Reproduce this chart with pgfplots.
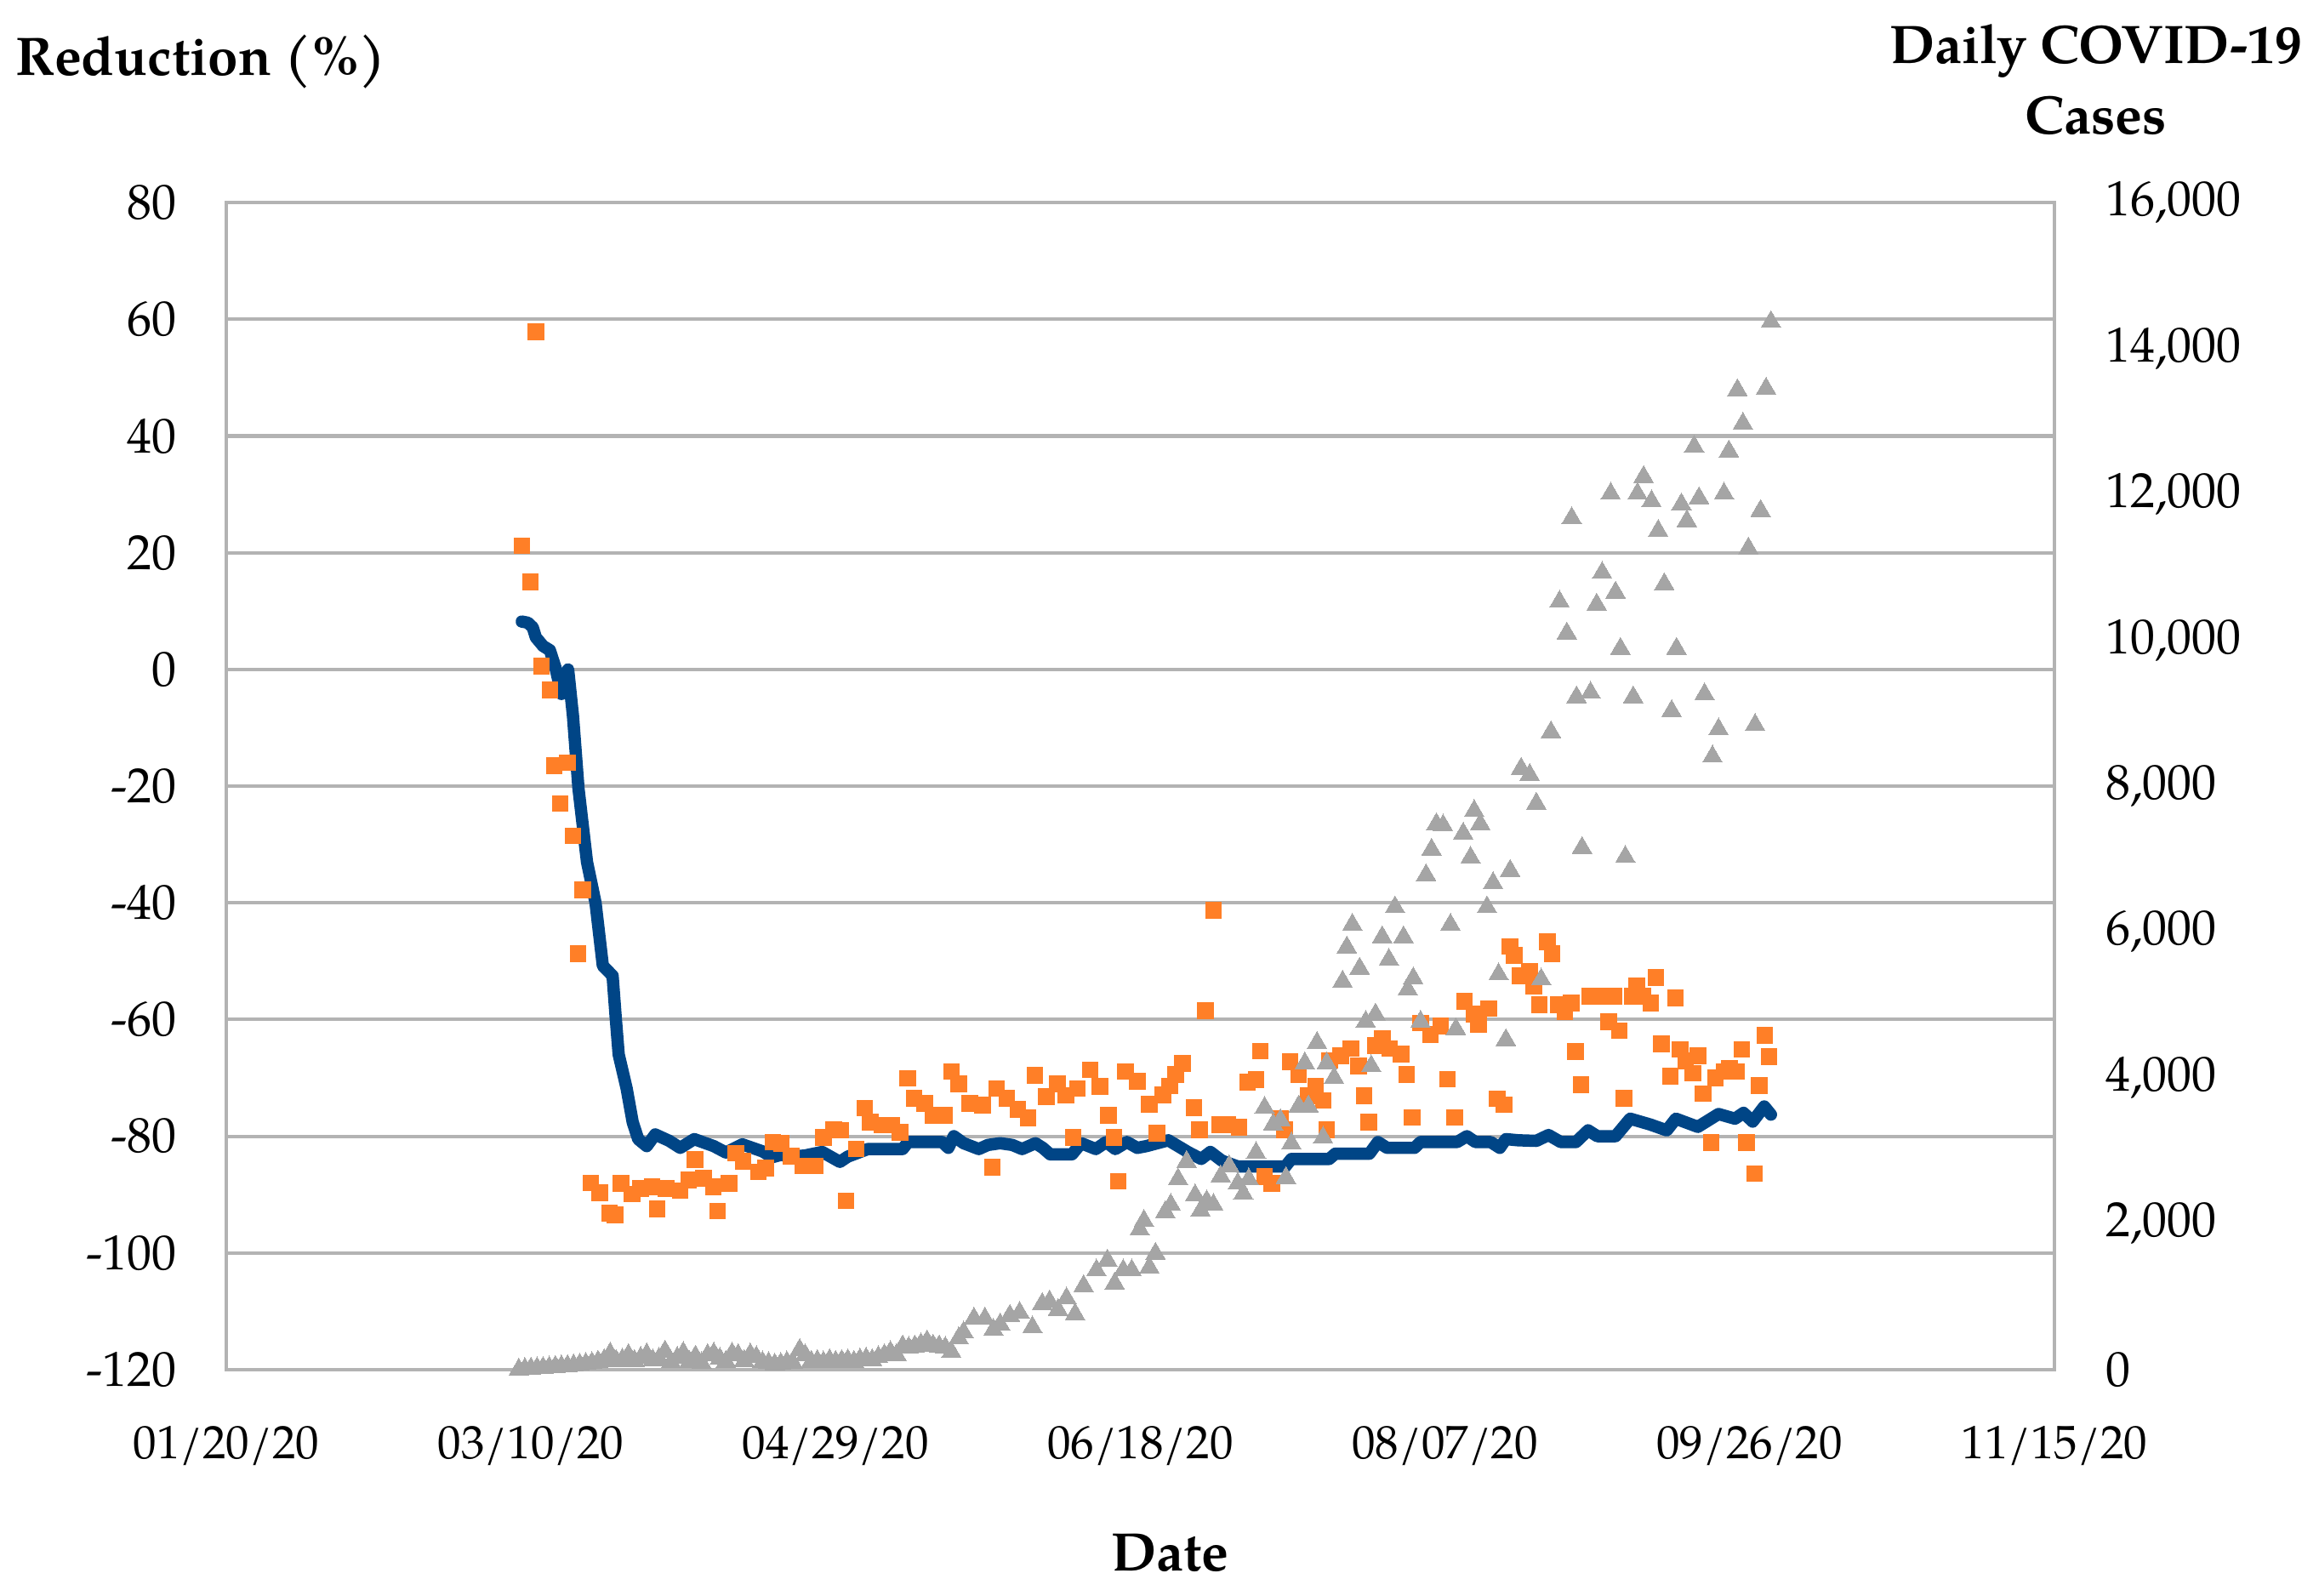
\documentclass[border=0pt]{standalone}
\usepackage{pgfplots}
\pgfplotsset{compat=1.18}
\usepackage{fontspec}
\setmainfont{texgyrepagella}[Extension=.otf, UprightFont=*-regular, BoldFont=*-bold, ItalicFont=*-italic, BoldItalicFont=*-bolditalic]
\definecolor{orangeC}{RGB}{255,127,39}
\definecolor{blueC}{RGB}{0,69,134}
\definecolor{grayC}{RGB}{165,165,165}
\definecolor{gridgray}{RGB}{179,179,179}
\begin{document}
\begin{tikzpicture}
\begin{axis}[
  at={(0pt,0pt)}, anchor=south west,
  scale only axis, width=370.8pt, height=236.7pt,
  xmin=0, xmax=300, ymin=-120, ymax=80,
  xtick={0,50,100,150,200,250,300},
  xticklabels={01/20/20,03/10/20,04/29/20,06/18/20,08/07/20,09/26/20,11/15/20},
  ytick={-120,-100,...,80},
  ymajorgrids, grid style={draw=gridgray, line width=0.7pt},
  axis line style={draw=gridgray, line width=0.7pt},
  major tick length=0pt,
  tick label style={font=\fontsize{10}{12}\selectfont, text=black},
  /pgf/number format/assume math mode=true,
  xticklabel style={yshift=-7.9pt, font=\fontsize{9.5}{12}\selectfont},
  yticklabel style={xshift=-6.5pt},
]
\addplot[only marks, color=orangeC, mark=square*, mark size=1.6pt, mark options={draw=orangeC, fill=orangeC, line width=0pt}] coordinates {
(48.5,21.2)(49.9,15.0)(50.8,57.9)(51.7,0.6)(53.1,-3.5)(53.8,-16.5)(54.8,-23.0)(56.0,-16.0)(56.9,-28.5)(57.7,-48.7)(58.5,-37.8)(59.8,-88)(61.3,-89.7)(62.9,-93.2)(63.8,-93.5)(64.8,-88.1)(66.6,-89.9)(68,-89)(69.9,-88.7)(70.7,-92.5)(72.2,-89)(74.5,-89.3)(75.9,-87.5)(76.9,-84)(78.3,-87.2)(79.9,-88.7)(80.6,-92.8)(82.5,-88.1)(83.6,-82.9)(84.8,-84.3)(87.3,-86.1)(88.5,-85.5)(89.7,-81)(91.1,-81.2)(92.7,-83.4)(94.6,-85.1)(96.7,-85.1)(98.0,-80.2)(99.7,-78.8)(100.8,-79)(101.7,-91.1)(103.4,-82.2)(104.8,-75.2)(105.7,-77.6)(107.6,-78.1)(109.2,-78.1)(110.6,-79.3)(111.8,-70.1)(112.9,-73.5)(114.6,-74.4)(116,-76.4)(117.8,-76.4)(119,-68.9)(120.2,-71)(122,-74.4)(124.1,-74.7)(125.7,-85.3)(126.4,-71.8)(128.1,-73.5)(129.9,-75.4)(131.6,-76.9)(132.7,-69.6)(134.6,-73.2)(136.4,-71)(137.8,-73)(139,-80.2)(139.7,-71.8)(141.8,-68.6)(143.4,-71.5)(144.8,-76.4)(145.7,-80.2)(146.4,-87.7)(147.6,-68.9)(149.5,-70.6)(151.5,-74.5)(152.7,-79.5)(153.7,-72.9)(154.8,-71.4)(155.8,-69.4)(156.9,-67.5)(158.8,-75.1)(159.7,-78.9)(160.7,-58.5)(162,-41.3)(163,-78)(164.4,-78)(166.2,-78.5)(167.6,-70.7)(169,-70.3)(169.7,-65.4)(170.4,-86.9)(171.6,-88.1)(173,-77)(173.7,-78.9)(174.6,-67.2)(176,-69.4)(177.6,-73.1)(178.8,-71.4)(180,-73.9)(180.6,-78.9)(181.1,-67)(182.9,-66.2)(184.6,-65)(185.8,-68)(186.7,-73.1)(187.5,-77.6)(188.6,-64.5)(189.7,-63.3)(190.9,-65)(192.8,-65.9)(193.7,-69.4)(194.6,-76.8)(196,-60.6)(197.6,-62.6)(199.3,-61.1)(200.4,-70.2)(201.6,-76.8)(203.2,-56.9)(204.8,-59.1)(205.5,-60.8)(207.2,-58.1)(208.6,-73.6)(209.7,-74.6)(210.7,-47.5)(211.4,-49)(212.3,-52.5)(213.9,-51.7)(214.6,-54.3)(215.5,-57.5)(216.8,-46.7)(217.6,-48.7)(218.6,-57.5)(219.7,-58.7)(220.7,-57.2)(221.4,-65.5)(222.3,-71.2)(223.7,-56)(225.3,-56)(226.9,-60.4)(227.7,-56)(228.6,-61.9)(229.4,-73.5)(230.7,-56)(231.5,-54.3)(232.5,-56)(233.8,-57.2)(234.6,-52.8)(235.5,-64.2)(237,-69.7)(237.8,-56.3)(238.6,-65.1)(239.5,-67.1)(240.7,-69.2)(241.5,-66.2)(242.4,-72.7)(243.7,-81.1)(244.4,-70)(245.8,-68.9)(246.7,-68.3)(247.9,-68.9)(248.7,-65.1)(249.5,-81.1)(250.8,-86.4)(251.6,-71.3)(252.5,-62.7)(253.2,-66.4)
};
\addplot[no marks, draw=blueC, line width=2.5pt, line join=round, line cap=round] coordinates {
(48.5,8.2)(49.5,8)(50.3,7.2)(50.8,5.5)(52,4)(53.1,3.3)(54,0.4)(55,-4.2)(55.6,-1)(56.1,0)(56.9,-8)(57.8,-20.4)(59.2,-33)(60.6,-40)(61.8,-50.8)(63.4,-52.5)(63.9,-59.5)(64.4,-66)(65.7,-71.8)(66.7,-77.6)(67.6,-80.5)(69,-81.7)(70.4,-79.7)(72.7,-80.8)(74.5,-82)(76.8,-80.5)(80,-81.7)(82,-82.8)(84.7,-81.4)(88,-82.6)(89.6,-83.6)(91,-83.2)(93,-83.5)(95,-83.3)(97.8,-82.7)(100.7,-84.4)(102,-83.5)(105.3,-82.2)(111,-82.2)(111.9,-81)(117.5,-81)(118.5,-82)(119.4,-80)(121,-81.2)(123.5,-82.2)(125,-81.5)(127,-81.2)(129,-81.5)(130.6,-82.2)(132.8,-81.2)(134,-82)(135.2,-83.1)(138.8,-83.1)(140.3,-81.2)(142.7,-82.2)(144.4,-81)(145.9,-82.2)(147.8,-81)(149.5,-82)(151,-81.7)(154.6,-80.7)(157.8,-82.7)(160,-83.9)(161.5,-82.7)(163.4,-84.2)(166,-85.2)(173.8,-85.2)(174.8,-83.9)(181,-83.9)(182,-83)(187.6,-83)(189,-81)(190.5,-82)(195,-82)(196,-81)(202,-81)(203.6,-80)(205,-81)(207.5,-81)(209,-82)(210,-80.5)(212,-80.7)(215,-80.8)(217,-79.8)(219,-81)(221.5,-81)(223.5,-79)(225,-80)(228,-80)(230.4,-77)(233.7,-78)(236.4,-79)(237.9,-77)(241.5,-78.4)(244.9,-76.2)(247.6,-77)(249,-76)(250.5,-77.5)(252.4,-74.9)(253.5,-76.3)
};
\end{axis}
\begin{axis}[
  at={(0pt,0pt)}, anchor=south west,
  scale only axis, width=370.8pt, height=236.7pt,
  xmin=0, xmax=300, ymin=0, ymax=16000,
  axis x line=none, axis y line*=right,
  axis line style={draw=gridgray, line width=0.7pt},
  ytick={0,2000,...,16000},
  scaled y ticks=false,
  major tick length=0pt,
  tick label style={font=\fontsize{10}{12}\selectfont, text=black},
  /pgf/number format/assume math mode=true,
  /pgf/number format/1000 sep={,},
  yticklabel style={xshift=6.9pt},
]
\addplot[only marks, color=grayC, mark=triangle*, mark size=2.3pt, mark options={draw=grayC, fill=grayC, line width=0pt}] coordinates {
(48,0)(49,10)(50,15)(51,20)(52,25)(53,30)(54,40)(55,45)(56,50)(57,60)(58,70)(59,80)(60,90)(61,110)(62,130)(63,220)(64,120)(65,140)(66,200)(67,120)(68,160)(69,210)(70,130)(71,150)(72,250)(73,100)(74,160)(75,230)(76,110)(77,180)(78,90)(79,200)(80,220)(81,150)(82,110)(83,220)(84,200)(85,120)(86,210)(87,170)(88,100)(89,90)(90,70)(91,80)(92,100)(93,90)(94.1,270)(95,200)(96,110)(97,120)(98,100)(99,130)(100,110)(101,120)(102,130)(103,110)(104,140)(105,150)(106,130)(107,170)(108,200)(109,240)(110,200)(111,320)(112,300)(113,320)(114,350)(115,390)(116,330)(117,320)(118,300)(119,240)(120.2,430)(121,510)(122.7,700)(124.5,700)(125.9,545)(127,620)(128.6,740)(130.2,780)(132.3,580)(133.9,900)(135.1,935)(136.5,820)(137.9,975)(139.3,760)(140.7,1145)(142.8,1360)(144.6,1495)(145.8,1180)(147.2,1360)(148.6,1360)(149.9,1920)(150.6,2040)(151.5,1400)(152.5,1590)(154.1,2160)(155,2260)(156.2,2610)(157.6,2850)(159,2390)(159.9,2180)(160.9,2310)(162,2260)(163.2,2650)(164.6,2790)(166,2550)(166.9,2410)(167.8,2610)(169,2970)(170.4,3590)(171.8,3360)(173,3420)(173.9,2630)(174.8,3100)(176,3610)(177,4200)(177.6,3610)(179,4480)(180,3180)(180.6,4200)(181.8,4000)(183.2,5320)(183.9,5790)(184.8,6100)(186,5500)(187,4770)(187.9,4160)(188.6,4870)(189.7,5930)(190.8,5620)(191.8,6340)(193.2,5930)(193.9,5210)(194.8,5365)(196,4770)(196.9,6780)(197.8,7130)(198.6,7480)(199.7,7460)(200.9,6100)(201.8,4670)(203,7350)(204.2,7020)(204.8,7660)(205.8,7480)(206.9,6340)(207.9,6670)(208.8,5420)(210,4520)(210.7,6840)(212.5,8240)(213.9,8155)(215,7760)(215.8,5350)(217.4,8740)(218.8,10530)(220,10095)(220.8,11675)(221.6,9220)(222.5,7155)(223.9,9280)(224.9,10490)(225.8,10925)(227.2,12010)(228,10655)(228.8,9885)(229.6,7030)(230.9,9220)(231.6,12010)(232.6,12240)(233.9,11905)(235,11500)(236,10770)(237.2,9030)(238,9885)(238.8,11865)(239.7,11635)(240.9,12655)(241.7,11950)(242.6,9260)(243.9,8405)(244.9,8780)(245.8,12010)(246.6,12590)(248,13430)(248.9,12970)(249.8,11260)(250.9,8840)(251.8,11775)(252.7,13450)(253.5,14365)
};
\end{axis}
\node[anchor=west, font=\bfseries\fontsize{11}{14.4}\selectfont] at (-46.2pt,265.2pt) {Reduction (\%)};
\node[align=center, font=\bfseries\fontsize{11}{14.4}\selectfont] at (379.2pt,261.6pt) {Daily COVID-19\\Cases};
\node[font=\bfseries\fontsize{11}{14.4}\selectfont] at (191.4pt,-37.2pt) {Date};
\pgfresetboundingbox
\path (-45.9pt,-45.9pt) rectangle (424.5pt,277.8pt);
\end{tikzpicture}
\end{document}
